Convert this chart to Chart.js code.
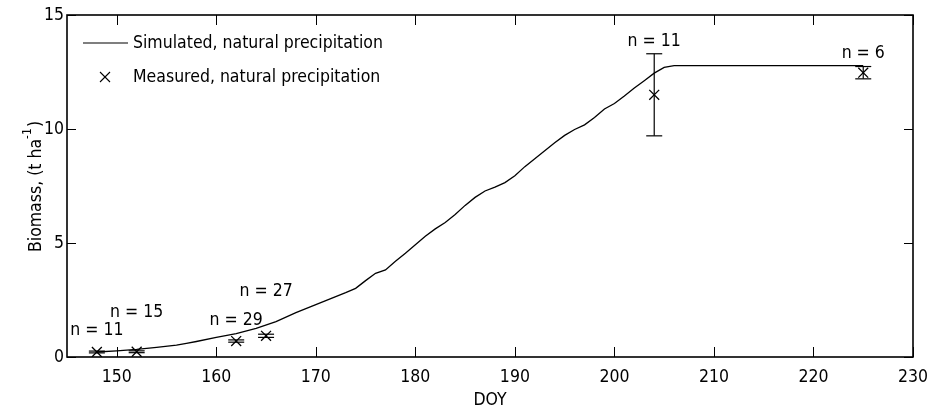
<!DOCTYPE html>
<html>
<head>
<meta charset="utf-8">
<script src="https://cdn.jsdelivr.net/npm/chart.js@4.4.0/dist/chart.umd.min.js"></script>
<style>
  html, body { margin: 0; padding: 0; background: #fff; }
</style>
</head>
<body>
<canvas id="myChart" width="930" height="410"></canvas>
<script>
// simulated biomass (t/ha) by day of year
const simDoy = [148, 150, 152, 154, 156, 157, 158, 160, 162, 164, 166, 168, 170, 171, 172, 173, 174, 175, 176, 177,
  178, 179, 180, 181, 182, 183, 184, 185, 186, 187, 188, 189, 190, 191, 192, 193, 194, 195, 196, 197,
  198, 199, 200, 201, 202, 203, 204, 205, 206, 210, 215, 220, 225]
const simBiomass = [0.22, 0.27, 0.33, 0.42, 0.52, 0.60, 0.68, 0.86, 1.03, 1.26, 1.55, 1.95, 2.30, 2.47, 2.65, 2.82, 3.01, 3.35, 3.67, 3.82,
  4.20, 4.55, 4.92, 5.30, 5.62, 5.90, 6.25, 6.65, 7.00, 7.28, 7.45, 7.65, 7.95, 8.35, 8.70, 9.05, 9.40, 9.72, 9.98, 10.18,
  10.50, 10.88, 11.12, 11.45, 11.80, 12.12, 12.45, 12.70, 12.78, 12.78, 12.78, 12.78, 12.78]

// measured biomass, +/- error, and sample sizes
const measDoy = [148, 152, 162, 165, 204, 225]
const measBiomass = [0.22, 0.23, 0.70, 0.93, 11.5, 12.47]
const measErr = [0.04, 0.04, 0.05, 0.07, 1.8, 0.27]
const nLabels = ['n = 11', 'n = 15', 'n = 29', 'n = 27', 'n = 11', 'n = 6']
const nLabelY = [1.15, 1.95, 1.62, 2.86, 13.85, 13.3]

const xTicks = [150, 160, 170, 180, 190, 200, 210, 220, 230]
const yTicks = [0, 5, 10, 15]

const FONT = '"DejaVu Sans Condensed", "Liberation Sans Narrow", sans-serif'
const FSIZE = 17.5

const line = (ctx, x1, y1, x2, y2) => {
    ctx.beginPath()
    ctx.moveTo(x1, y1)
    ctx.lineTo(x2, y2)
    ctx.stroke()
}

// frame, inward ticks, error bars, n labels, legend and axis titles
const extras = {
    id: 'extras',
    afterDatasetsDraw(chart) {
        const {ctx, chartArea: a, scales: {x, y}} = chart
        ctx.save()
        ctx.strokeStyle = '#000'
        ctx.fillStyle = '#000'

        // ticks
        ctx.lineWidth = 1
        xTicks.forEach(v => {
            const px = Math.round(x.getPixelForValue(v)) + 0.5
            line(ctx, px, a.bottom, px, a.bottom - 10)
            line(ctx, px, a.top, px, a.top + 10)
        })
        yTicks.forEach(v => {
            const py = Math.round(y.getPixelForValue(v)) + 0.5
            line(ctx, a.left, py, a.left + 9, py)
            line(ctx, a.right, py, a.right - 9, py)
        })

        // frame
        ctx.lineWidth = 1.6
        ctx.strokeRect(a.left, a.top, a.right - a.left, a.bottom - a.top)

        // error bars
        ctx.lineWidth = 1.2
        measDoy.forEach((d, i) => {
            const px = x.getPixelForValue(d)
            const top = y.getPixelForValue(measBiomass[i] + measErr[i])
            const bot = y.getPixelForValue(measBiomass[i] - measErr[i])
            line(ctx, px, top, px, bot)
            line(ctx, px - 8, top, px + 8, top)
            line(ctx, px - 8, bot, px + 8, bot)
        })

        ctx.font = FSIZE + 'px ' + FONT
        ctx.textAlign = 'center'
        ctx.textBaseline = 'middle'
        nLabels.forEach((t, i) => {
            ctx.fillText(t, x.getPixelForValue(measDoy[i]), y.getPixelForValue(nLabelY[i]))
        })

        // legend
        ctx.textAlign = 'left'
        ctx.lineWidth = 1.2
        line(ctx, 83, 43, 128, 43)
        ctx.fillText('Simulated, natural precipitation', 133, 43)
        ctx.lineWidth = 1.1
        line(ctx, 100, 72, 110, 82)
        line(ctx, 110, 72, 100, 82)
        ctx.fillText('Measured, natural precipitation', 133, 77)

        // x title
        ctx.textAlign = 'center'
        ctx.fillText('DOY', (a.left + a.right) / 2, 400)

        // y title with superscript
        ctx.translate(36, 187)
        ctx.rotate(-Math.PI / 2)
        const main = 'Biomass, (t ha'
        const sup = '-1'
        const end = ')'
        const supFont = '12px ' + FONT
        ctx.font = FSIZE + 'px ' + FONT
        const w1 = ctx.measureText(main).width
        const w3 = ctx.measureText(end).width
        ctx.font = supFont
        const w2 = ctx.measureText(sup).width
        let sx = -(w1 + w2 + w3) / 2
        ctx.textAlign = 'left'
        ctx.font = FSIZE + 'px ' + FONT
        ctx.fillText(main, sx, 0)
        ctx.font = supFont
        ctx.fillText(sup, sx + w1, -8)
        ctx.font = FSIZE + 'px ' + FONT
        ctx.fillText(end, sx + w1 + w2 + 1, 0)

        ctx.restore()
    }
}

const ctx = document.getElementById('myChart')

new Chart(ctx, {
    type: 'scatter',
    data: {
        datasets: [
            {
                label: 'Simulated, natural precipitation',
                type: 'line',
                data: simDoy.map((d, i) => ({x: d, y: simBiomass[i]})),
                borderColor: '#000',
                borderWidth: 1.3,
                pointRadius: 0,
                fill: false,
                tension: 0
            },
            {
                label: 'Measured, natural precipitation',
                data: measDoy.map((d, i) => ({x: d, y: measBiomass[i]})),
                pointStyle: 'crossRot',
                pointRadius: 7,
                borderColor: '#000',
                borderWidth: 1.3,
                backgroundColor: '#000'
            }
        ]
    },
    options: {
        responsive: false,
        animation: false,
        devicePixelRatio: 1,
        layout: {padding: {left: 0, top: 15, right: 17, bottom: 0}},
        plugins: {legend: {display: false}, tooltip: {enabled: false}},
        scales: {
            x: {
                type: 'linear',
                min: 145,
                max: 230,
                grid: {display: false, drawTicks: false},
                border: {display: false},
                afterBuildTicks: s => { s.ticks = xTicks.map(v => ({value: v})) },
                afterFit: s => {
                    s.height = 53
                    s.paddingLeft = 0
                    s.paddingRight = 0
                },
                ticks: {
                    autoSkip: false,
                    maxRotation: 0,
                    padding: 10,
                    color: '#000',
                    font: {family: FONT, size: FSIZE}
                }
            },
            y: {
                min: 0,
                max: 15,
                grid: {display: false, drawTicks: false},
                border: {display: false},
                afterBuildTicks: s => { s.ticks = yTicks.map(v => ({value: v})) },
                afterFit: s => {
                    s.width = 67
                    s.paddingTop = 0
                    s.paddingBottom = 0
                },
                ticks: {
                    padding: 3,
                    color: '#000',
                    font: {family: FONT, size: FSIZE}
                }
            }
        }
    },
    plugins: [extras]
})
</script>
</body>
</html>
